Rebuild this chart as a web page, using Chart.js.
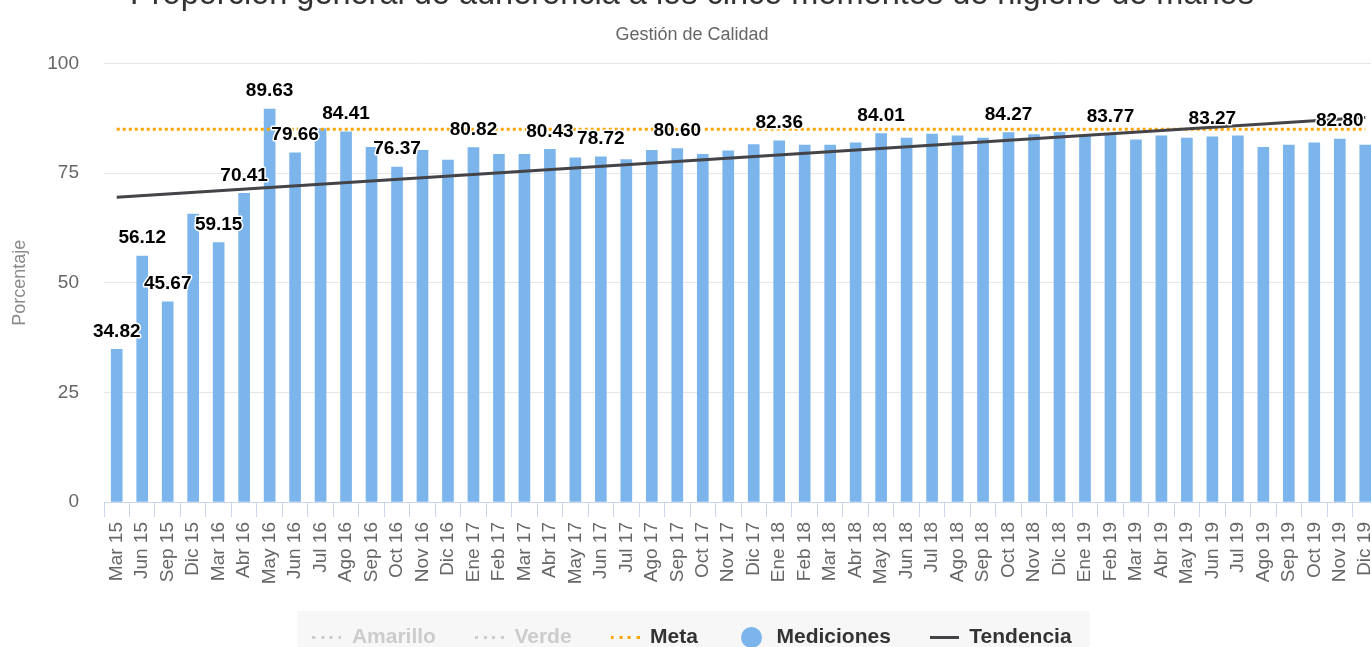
<!DOCTYPE html>
<html lang="es">
<head>
<meta charset="utf-8">
<title>Adherencia a higiene de manos</title>
<script src="https://cdn.jsdelivr.net/npm/chart.js@4.4.1/dist/chart.umd.min.js"></script>
<style>
  html, body { margin: 0; padding: 0; overflow: hidden; background: #fff; }
  /* the chart is a bit larger than the window, title and right edge get clipped */
  #wrap { position: absolute; left: 0; top: -40px; width: 1386px; height: 700px; }
</style>
</head>
<body>
<div id="wrap"><canvas id="chart"></canvas></div>
<script>
// Categories (mes / año)
const categories = [
    'Mar 15', 'Jun 15', 'Sep 15', 'Dic 15', 'Mar 16', 'Abr 16', 'May 16', 'Jun 16', 'Jul 16', 'Ago 16',
    'Sep 16', 'Oct 16', 'Nov 16', 'Dic 16', 'Ene 17', 'Feb 17', 'Mar 17', 'Abr 17', 'May 17', 'Jun 17',
    'Jul 17', 'Ago 17', 'Sep 17', 'Oct 17', 'Nov 17', 'Dic 17', 'Ene 18', 'Feb 18', 'Mar 18', 'Abr 18',
    'May 18', 'Jun 18', 'Jul 18', 'Ago 18', 'Sep 18', 'Oct 18', 'Nov 18', 'Dic 18', 'Ene 19', 'Feb 19',
    'Mar 19', 'Abr 19', 'May 19', 'Jun 19', 'Jul 19', 'Ago 19', 'Sep 19', 'Oct 19', 'Nov 19', 'Dic 19'
];

// Mediciones (%)
const mediciones = [
    34.82, 56.12, 45.67, 65.7, 59.15, 70.41, 89.63, 79.66, 85.2, 84.41,
    80.9, 76.37, 80.2, 78.0, 80.82, 79.3, 79.3, 80.43, 78.5, 78.72,
    78.1, 80.2, 80.60, 79.3, 80.1, 81.5, 82.36, 81.4, 81.4, 81.9,
    84.01, 83.0, 83.9, 83.5, 83.0, 84.27, 83.8, 84.3, 83.5, 83.77,
    82.6, 83.5, 83.0, 83.27, 83.5, 80.9, 81.4, 81.9, 82.80, 81.4
];

// Meta (%)
const meta = [
    85, 85, 85, 85, 85, 85, 85, 85, 85, 85,
    85, 85, 85, 85, 85, 85, 85, 85, 85, 85,
    85, 85, 85, 85, 85, 85, 85, 85, 85, 85,
    85, 85, 85, 85, 85, 85, 85, 85, 85, 85,
    85, 85, 85, 85, 85, 85, 85, 85, 85, 85
];

// Tendencia: straight line, only its two ends are known
const tendencia = [69.5];
tendencia[categories.length - 1] = 87.7;

// Points whose value label is visible in the original
const labelledPoints = [0, 1, 2, 4, 5, 6, 7, 9, 11, 14, 17, 19, 22, 26, 30, 35, 39, 43, 48];

const yTicks = [0, 25, 50, 75, 100];

Chart.defaults.font.family = '"Liberation Sans", Arial, Helvetica, sans-serif';

// Small legend symbols (Highcharts look)
function lineSymbol(color, dotted) {
    const c = document.createElement('canvas');
    c.width = 29;
    c.height = 3;
    const g = c.getContext('2d');
    g.fillStyle = color;
    if (dotted) {
        for (let i = 0; i < 4; i++) g.fillRect(Math.round(i * 8.7), 0, 3, 3);
    } else {
        g.fillRect(0, 0, 29, 3);
    }
    return c;
}

function dotSymbol(color) {
    const c = document.createElement('canvas');
    c.width = 21;
    c.height = 21;
    const g = c.getContext('2d');
    g.fillStyle = color;
    g.beginPath();
    g.arc(10.5, 10.5, 10.5, 0, Math.PI * 2);
    g.fill();
    return c;
}

const legendSymbols = [
    lineSymbol('#cccccc', true),
    lineSymbol('#cccccc', true),
    lineSymbol('#ffa500', true),
    dotSymbol('#7cb5ec'),
    lineSymbol('#434348', false)
];

// grey box behind the legend
const legendBox = {
    id: 'legendBox',
    beforeDraw(chart) {
        const lg = chart.legend;
        if (!lg || !lg.legendHitBoxes) return;
        const pad = lg.options.labels.padding;
        let w = 0;
        lg.legendHitBoxes.forEach(h => { w += h.width; });
        w += pad * (lg.legendHitBoxes.length - 1);
        const cx = (lg.left + lg.right) / 2;
        const ctx = chart.ctx;
        ctx.save();
        ctx.fillStyle = '#f7f7f7';
        ctx.fillRect(cx - w / 2 - 15, lg.top + pad + 10 - 26, w + 33, 80);
        ctx.restore();
    }
};

// value labels above some bars
const barLabels = {
    id: 'barLabels',
    afterDatasetsDraw(chart) {
        const bars = chart.getDatasetMeta(3);
        const ctx = chart.ctx;
        ctx.save();
        ctx.font = 'bold 19px "Liberation Sans", Arial, sans-serif';
        ctx.textAlign = 'center';
        ctx.textBaseline = 'middle';
        ctx.lineJoin = 'round';
        ctx.lineWidth = 3;
        ctx.strokeStyle = '#ffffff';
        ctx.fillStyle = '#000000';
        labelledPoints.forEach(i => {
            const bar = bars.data[i];
            const txt = mediciones[i].toFixed(2);
            ctx.strokeText(txt, bar.x, bar.y - 18);
            ctx.fillText(txt, bar.x, bar.y - 18);
        });
        ctx.restore();
    }
};

new Chart(document.getElementById('chart'), {
    type: 'bar',
    data: {
        labels: categories,
        datasets: [
            {
                // hidden in the original, no values shown
                type: 'line',
                label: 'Amarillo',
                data: [],
                hidden: true
            },
            {
                type: 'line',
                label: 'Verde',
                data: [],
                hidden: true
            },
            {
                type: 'line',
                label: 'Meta',
                data: meta,
                borderColor: '#ffa500',
                borderWidth: 3,
                borderDash: [3, 3],
                pointRadius: 0,
                fill: false,
                order: 1
            },
            {
                type: 'bar',
                label: 'Mediciones',
                data: mediciones,
                backgroundColor: '#7cb5ec',
                barThickness: 11,
                order: 3
            },
            {
                type: 'line',
                label: 'Tendencia',
                data: tendencia,
                borderColor: '#434348',
                borderWidth: 3,
                pointRadius: 0,
                spanGaps: true,
                fill: false,
                order: 0
            }
        ]
    },
    options: {
        responsive: true,
        maintainAspectRatio: false,
        animation: false,
        layout: {
            padding: { left: 6, right: 8, top: 0, bottom: 2 }
        },
        scales: {
            x: {
                offset: true,
                afterFit: axis => {
                    axis.height = 86;
                    axis.paddingLeft = 0;
                    axis.paddingRight = 0;
                },
                grid: {
                    offset: true,
                    drawOnChartArea: false,
                    drawTicks: true,
                    tickLength: 15,
                    color: '#ccd6eb'
                },
                border: { display: true, color: '#ccd6eb' },
                ticks: {
                    autoSkip: false,
                    minRotation: 90,
                    maxRotation: 90,
                    padding: 5,
                    color: '#666666',
                    font: { size: 19 }
                }
            },
            y: {
                min: 0,
                max: 100,
                afterFit: axis => { axis.width = 98; },
                afterBuildTicks: axis => { axis.ticks = yTicks.map(v => ({ value: v })); },
                grid: {
                    drawTicks: false,
                    color: c => (c.tick && c.tick.value === 0 ? 'rgba(0,0,0,0)' : '#e6e6e6')
                },
                border: { display: false },
                ticks: {
                    padding: 25,
                    color: '#666666',
                    font: { size: 19 }
                },
                title: {
                    display: true,
                    text: 'Porcentaje',
                    color: '#8a8a8a',
                    font: { size: 18 },
                    padding: { top: 3.4, bottom: 10 }
                }
            }
        },
        plugins: {
            title: {
                display: true,
                text: 'Proporción general de adherencia a los cinco momentos de higiene de manos',
                color: '#333333',
                font: { size: 32.5, weight: 'normal' },
                padding: { top: 15.3, bottom: 0 }
            },
            subtitle: {
                display: true,
                text: 'Gestión de Calidad',
                color: '#666666',
                font: { size: 18 },
                padding: { top: 9.7, bottom: 18 }
            },
            legend: {
                position: 'bottom',
                labels: {
                    usePointStyle: true,
                    pointStyleWidth: 29,
                    padding: 39,
                    font: { size: 21, weight: 'bold' },
                    generateLabels: chart => chart.data.datasets.map((ds, i) => ({
                        text: ds.label,
                        fontColor: ds.hidden ? '#cccccc' : '#333333',
                        pointStyle: legendSymbols[i],
                        hidden: false,
                        datasetIndex: i,
                        lineWidth: 0,
                        strokeStyle: 'rgba(0,0,0,0)',
                        fillStyle: 'rgba(0,0,0,0)'
                    }))
                }
            },
            tooltip: { enabled: false }
        }
    },
    plugins: [legendBox, barLabels]
});
</script>
</body>
</html>
